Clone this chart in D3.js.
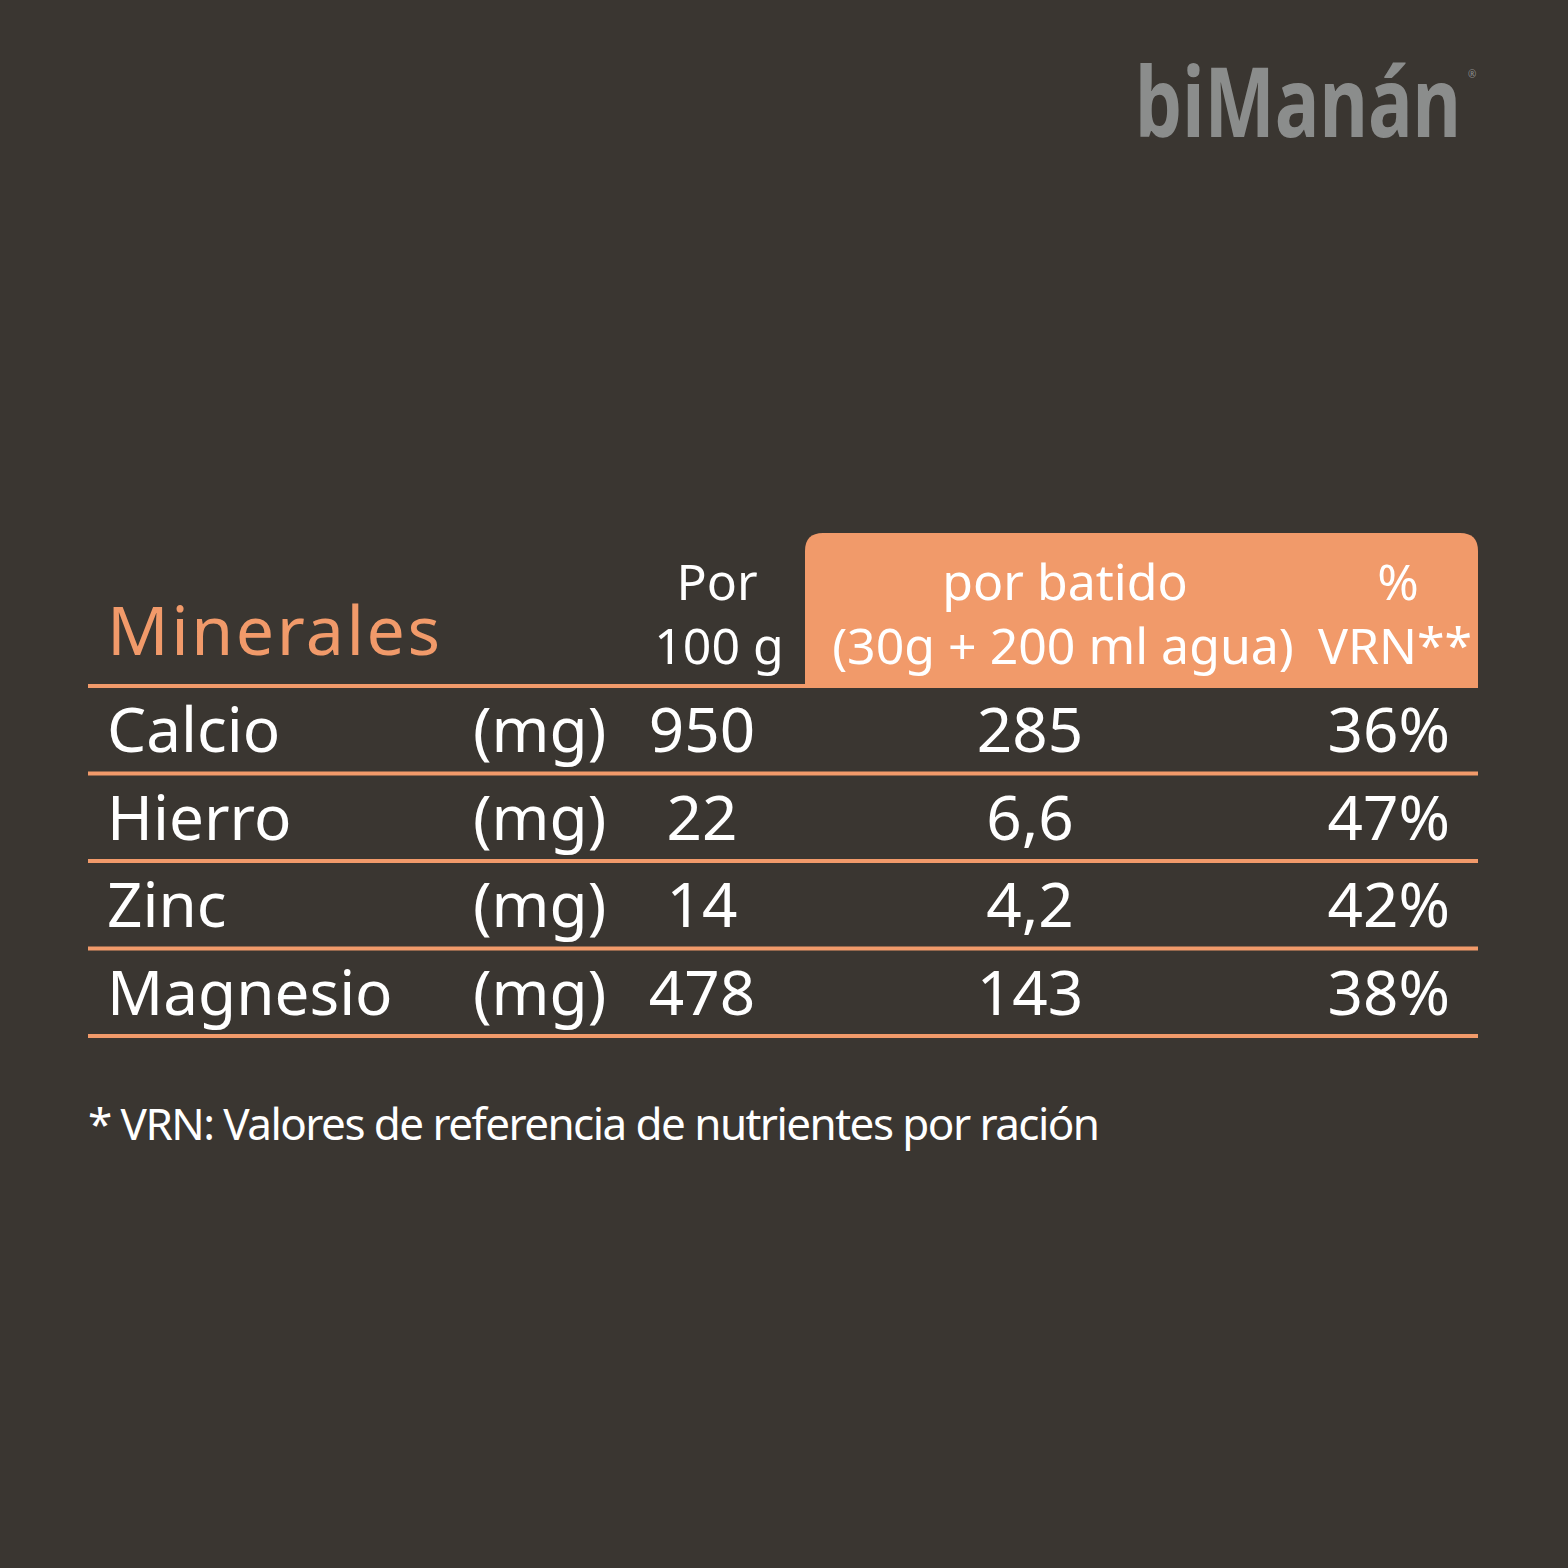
<!DOCTYPE html>
<html><head><meta charset="utf-8">
<script src="https://cdn.jsdelivr.net/npm/d3@7"></script>
<style>body{margin:0;background:#3a3631}</style>
</head><body>
<script>
var minerals = ["Calcio", "Hierro", "Zinc", "Magnesio"];
var units = ["(mg)", "(mg)", "(mg)", "(mg)"];
var per100 = ["950", "22", "14", "478"];
var perShake = ["285", "6,6", "4,2", "143"];
var vrn = ["36%", "47%", "42%", "38%"];

var W = 1568, H = 1568, orange = "#f19a6a", white = "#ffffff";
var svg = d3.select("body").append("svg").attr("width", W).attr("height", H)
  .style("font-family", "'Noto Sans', sans-serif");
svg.append("rect").attr("width", W).attr("height", H).attr("fill", "#3a3631");

// logo: condensed by a horizontal scale, right edge pinned before the ® mark
var logo = svg.append("text").attr("y", 137).attr("text-anchor", "end")
  .attr("font-size", 96).attr("font-weight", "bold").attr("fill", "#8b8d8c").text("biManán");
var lw = logo.node().getComputedTextLength();
var sx = 326 / lw;
logo.attr("transform", "translate(1461,0) scale(" + sx + ",1)");
svg.append("text").attr("x", 1468).attr("y", 78).attr("font-size", 10).attr("fill", "#8b8d8c").text("®");

// header box with rounded top corners
var bx = 805, by = 533, bw = 673, bh = 155, r = 18;
svg.append("path").attr("fill", orange)
  .attr("d", "M" + bx + "," + (by + bh) + "V" + (by + r) + "Q" + bx + "," + by + " " + (bx + r) + "," + by +
    "H" + (bx + bw - r) + "Q" + (bx + bw) + "," + by + " " + (bx + bw) + "," + (by + r) + "V" + (by + bh) + "Z");

svg.append("text").attr("x", 107).attr("y", 655).attr("font-size", 68).attr("fill", orange)
  .attr("textLength", 333).text("Minerales");
function hdr(x, y, t) {
  svg.append("text").attr("x", x).attr("y", y).attr("text-anchor", "middle")
    .attr("font-size", 50).attr("fill", white).text(t);
}
hdr(717, 600, "Por"); hdr(719, 664, "100 g");
hdr(1065, 600, "por batido"); hdr(1063, 664, "(30g + 200 ml agua)");
hdr(1398, 600, "%"); hdr(1395, 664, "VRN**");

var y = d3.scaleBand().domain(minerals).range([686, 1036]);
svg.selectAll("line.row").data([686].concat(minerals.map(function(m){ return y(m) + y.bandwidth(); })))
  .enter().append("line").attr("x1", 88).attr("x2", 1478)
  .attr("y1", function(d){ return d; }).attr("y2", function(d){ return d; })
  .attr("stroke", orange).attr("stroke-width", 4);

var rows = svg.selectAll("g.r").data(minerals).enter().append("g")
  .attr("transform", function(d){ return "translate(0," + (y(d) + 66) + ")"; })
  .attr("font-size", 62).attr("fill", white);
rows.append("text").attr("x", 107).text(function(d){ return d; });
rows.append("text").attr("x", 473).text(function(d, i){ return units[i]; });
rows.append("text").attr("x", 702).attr("text-anchor", "middle").text(function(d, i){ return per100[i]; });
rows.append("text").attr("x", 1030).attr("text-anchor", "middle").text(function(d, i){ return perShake[i]; });
rows.append("text").attr("x", 1450).attr("text-anchor", "end").text(function(d, i){ return vrn[i]; });

svg.append("text").attr("x", 88).attr("y", 1140).attr("font-size", 44).attr("fill", white)
  .attr("textLength", 1012).text("* VRN: Valores de referencia de nutrientes por ración");
</script>
</body></html>
